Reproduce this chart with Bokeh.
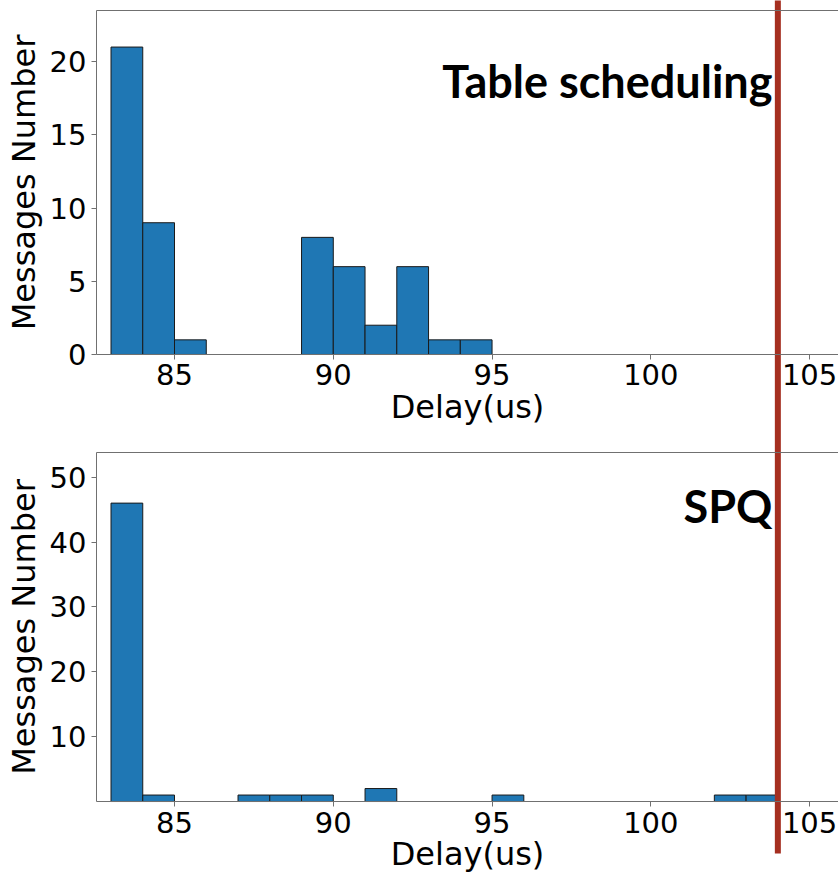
from bokeh.plotting import figure
from bokeh.models import FixedTicker, Label, Range1d, LinearAxis
from bokeh.embed import file_html
from bokeh.resources import INLINE

# ---- data ----
top_bin_lefts = [83, 84, 85, 89, 90, 91, 92, 93, 94]
top_counts = [21, 9, 1, 8, 6, 2, 6, 1, 1]
bottom_bin_lefts = [83, 84, 87, 88, 89, 91, 95, 102, 103]
bottom_counts = [46, 1, 1, 1, 1, 2, 1, 1, 1]
bin_width = 1
x_ticks = [85, 90, 95, 100, 105]
top_y_ticks = [0, 5, 10, 15, 20]
bottom_y_ticks = [10, 20, 30, 40, 50]
top_y_max = 23.5
bottom_y_max = 53.8
x_min = 82.54
x_max = 105.91
deadline = 104
titles = ["Table scheduling", "SPQ"]
x_label = "Delay(us)"
y_label = "Messages Number"

# ---- style ----
BAR = "#1f77b4"
SPINE = "#707070"
RED = "#A52F20"
TICK_FONT = "29px"
LABEL_FONT = "32px"

# One canvas holding both panels (view ranges leave room for the axis texts),
# so the deadline line can run through both panels and the gap between them.
p = figure(width=838, height=874,
           x_range=Range1d(79.52, x_max), y_range=Range1d(-35.52, 24.18),
           output_backend="svg", toolbar_location=None,
           min_border_left=0, min_border_right=0, min_border_top=0, min_border_bottom=0,
           x_axis_location=None, y_axis_location=None)
p.extra_y_ranges = {"bottom": Range1d(-11.25, 123.48)}
p.background_fill_color = "white"
p.border_fill_color = "white"
p.outline_line_color = None
p.grid.visible = False


def style_axis(ax, is_x):
    ax.axis_line_color = SPINE
    ax.major_tick_line_color = SPINE
    ax.minor_tick_line_color = None
    ax.major_tick_in = 0
    ax.major_tick_out = 5
    ax.major_label_text_font = "DejaVu Sans"
    ax.major_label_text_font_size = TICK_FONT
    ax.major_label_text_color = "black"
    ax.axis_label_text_font = "DejaVu Sans"
    ax.axis_label_text_font_size = LABEL_FONT
    ax.axis_label_text_font_style = "normal"
    ax.axis_label_text_color = "black"
    ax.major_label_standoff = 5 if is_x else 5
    ax.axis_label_standoff = -1 if is_x else 4


panels = [
    ("default", top_bin_lefts, top_counts, top_y_ticks, top_y_max, titles[0], 18.7),
    ("bottom", bottom_bin_lefts, bottom_counts, bottom_y_ticks, bottom_y_max, titles[1], 45.5),
]

for rname, lefts, counts, yticks, ymax, title, title_y in panels:
    p.quad(left=lefts, right=[l + bin_width for l in lefts], bottom=0, top=counts,
           fill_color=BAR, line_color="#1a1a1a", line_width=1, y_range_name=rname)

    xa = LinearAxis(y_range_name=rname, fixed_location=0, bounds=(x_min, x_max),
                    axis_label=x_label, ticker=FixedTicker(ticks=x_ticks))
    style_axis(xa, True)
    p.add_layout(xa, "below")

    ya = LinearAxis(y_range_name=rname, fixed_location=x_min, bounds=(0, ymax),
                    axis_label=y_label, ticker=FixedTicker(ticks=yticks))
    style_axis(ya, False)
    p.add_layout(ya, "left")

    # top spine
    spine = LinearAxis(y_range_name=rname, fixed_location=ymax, bounds=(x_min, x_max),
                       ticker=FixedTicker(ticks=[]), axis_line_color=SPINE,
                       major_label_text_font_size="0px")
    p.add_layout(spine, "above")

    p.add_layout(Label(x=103.83, y=title_y, y_range_name=rname, text=title,
                       text_align="right", text_baseline="alphabetic", text_font="Lato",
                       text_font_style="bold", text_font_size="45px", text_color="black"))

# deadline marker through both panels
p.segment(x0=[deadline], y0=[-8.0], x1=[deadline], y1=[130], y_range_name="bottom",
          line_color=RED, line_width=6)

open("out.html", "w").write(file_html(p, INLINE))
